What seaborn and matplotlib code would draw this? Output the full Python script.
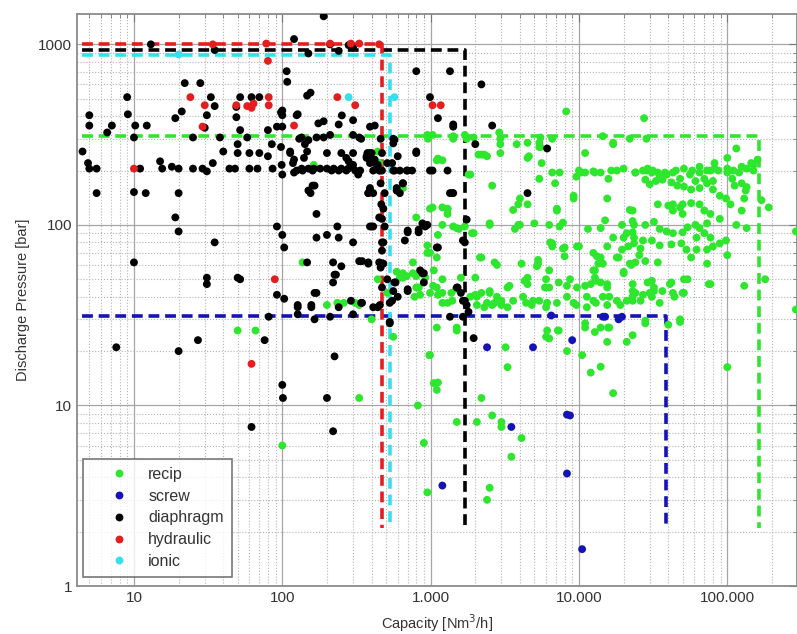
import matplotlib
matplotlib.use("Agg")
import matplotlib.pyplot as plt
from matplotlib.ticker import FuncFormatter, LogLocator, NullFormatter, FixedLocator
import pandas
import seaborn

# ---- data (capacity [Nm3/h], pressure [bar]) ----
DIAPHRAGM_CAP = [190, 13, 120, 210, 280, 150, 240, 300, 35,
    107, 108, 22, 28, 9, 33, 52, 62, 70, 147, 155,
    252, 5, 9.1, 35, 21, 19, 31, 49, 49, 100, 100, 125, 175, 190, 300, 420,
    5, 7.1, 10.2, 12.2, 6.6, 10, 25, 30, 38, 52, 58, 80, 92, 100, 135, 150, 170, 210, 300, 330, 390,
    4.5, 40, 50, 50, 60, 70, 80, 85, 98, 113, 142, 200, 250, 270, 300, 375,
    4.9, 5, 5.6, 11, 15, 15.5, 18, 20, 25, 29, 31, 34, 44, 48, 60, 68, 86, 99, 100, 118, 120,
    135, 150, 163, 180, 200, 222, 250, 278, 300, 325, 370, 390, 420, 440,
    5.6, 10, 12, 20, 150, 155, 380, 390,
    19, 20, 35, 170, 92, 100, 103, 170, 200, 240, 300, 400,
    10, 31, 31, 50, 52, 92, 103, 147, 165, 157, 127, 220, 225, 220, 330, 380,
    7.6, 20, 27, 76, 225, 100, 101, 200, 62, 220,
    81, 127, 210, 300, 165,
    235, 390, 410, 490, 700, 830, 670, 900, 950, 1100,
    250, 230, 450, 510, 580, 560, 600, 700, 850, 900, 900, 170, 290, 340, 127, 157, 240, 440, 530,
    1650, 1500, 1650, 1700, 1350, 1650, 1950,
    800, 1350, 990, 98, 127, 240, 1120, 1420, 130, 190, 340, 560, 570, 113, 147, 280, 120, 140,
    380, 390, 400, 800, 125, 137, 160, 215, 240, 270, 310, 450, 570, 620, 750, 990, 1300,
    160, 165, 390, 380, 590, 620, 1420,
    2200, 1420, 2600, 2000, 6100, 800, 690, 1030, 650, 1400, 4500, 830, 700, 1120, 1520,
    460, 470, 455, 460, 465, 450, 470, 460, 470, 455,
    560, 370, 400, 600, 390, 420, 510, 550, 335, 410, 470, 560, 700,
    410, 490, 590, 650, 1350, 480, 470, 880, 920, 480, 345, 380, 470, 480,
    880, 570, 700, 550, 530, 410, 345, 1600, 1750, 1800, 1700, 1750, 530]
DIAPHRAGM_P = [1430, 1000, 1070, 1000, 990, 890, 920, 960, 930,
    710, 620, 610, 610, 510, 510, 510, 510, 510, 520, 540,
    404, 405, 410, 455, 425, 390, 405, 450, 395, 430, 405, 405, 365, 375, 380, 355,
    355, 355, 355, 355, 325, 305, 305, 345, 305, 335, 305, 335, 350, 350, 305, 295, 305, 315, 315, 305, 350,
    255, 255, 280, 250, 250, 250, 240, 280, 270, 250, 280, 250, 250, 235, 250, 250,
    220, 205, 205, 205, 225, 205, 210, 205, 205, 205, 198, 220, 205, 205, 205, 205, 205, 215, 190, 220, 195,
    205, 205, 205, 205, 205, 205, 205, 205, 215, 190, 235, 250, 230, 215,
    150, 152, 150, 150, 155, 150, 150, 155,
    110, 92, 80, 115, 98, 88, 75, 85, 88, 85, 80, 98,
    62, 51, 47, 51, 50, 41, 39, 62, 42, 36, 36, 62, 53, 48, 63, 62,
    21, 20, 23, 23, 18.7, 13, 11, 11, 7.6, 7.2,
    31, 32, 31, 32, 30,
    98, 98, 98, 98, 91, 91, 82, 100, 100, 75,
    59, 53, 62, 50, 48, 43, 40, 43, 56, 54, 48, 42, 38, 37, 35, 35, 35, 35, 28.5,
    82, 45, 38, 38, 31, 31, 23.6,
    710, 710, 510, 420, 410, 360, 390, 360, 300, 305, 300, 300, 296, 255, 255, 225, 230, 235,
    245, 230, 225, 255, 200, 200, 200, 200, 200, 200, 200, 200, 200, 200, 200, 200, 200,
    165, 165, 160, 150, 160, 150, 150,
    600, 350, 355, 280, 265, 250, 200, 200, 170, 150, 150, 94, 93, 75, 45,
    300, 250, 200, 170, 130, 110, 80, 58, 45, 36,
    283, 240, 250, 240, 220, 220, 220, 220, 200, 200, 200, 200, 200,
    150, 150, 155, 170, 150, 123, 108, 102, 98, 80, 63, 61, 72, 61,
    54, 48, 44, 38, 37, 35, 37, 42, 36, 33, 80, 107, 29]

RECIP_CAP = [163, 137, 200, 235, 310, 330, 440, 50, 66, 100, 330, 400, 560, 260, 510, 690, 760, 830, 850,
    950, 950, 1050, 1100, 1100, 1200, 1200, 1120, 1200, 1380, 1480, 1100, 1500, 1900, 1850,
    990, 1050, 1120, 1100, 820,
    440, 450, 650, 950, 1030, 1420, 1700, 1950, 1120, 2100, 1800, 800, 1030, 1200, 1300, 1420, 1700,
    8200, 27500,
    960, 1420, 1750, 2950, 5500, 6600, 14500, 22000, 28500,
    2900, 3800, 4500, 2950, 2300, 2200, 5500, 4500, 5600, 11000, 17000, 1100, 1200, 1850, 2600, 6600, 7400,
    10000, 11000, 12500, 14000, 16500, 18000, 20000, 24000, 27000, 29000, 31500, 34000, 38000, 45000,
    51000, 58000, 65000, 73000, 82000, 100000, 110000, 125000, 135000, 150000,
    4000, 3900, 9200, 15500, 7100, 3600, 1300, 22000,
    2500, 5000, 7800, 15000, 1550, 11500, 3700, 3900, 1950,
    6600, 7800, 10000, 2150, 2700, 2800, 5300, 5200, 14000, 14500, 12500, 18500, 22000, 25500,
    650, 760, 2000, 3300, 4300, 4500, 6000, 6300, 8300, 12000, 13000, 15500, 20000, 23000, 31000,
    32000, 41000, 51000, 75000, 130000, 180000, 190000,
    990, 1200, 1400, 2050, 2500, 2800, 3000, 2400, 2600, 3600, 4400, 4900, 6000, 8300, 9200, 11300,
    12500, 16000, 18000, 19000, 23000, 26000, 30000, 35000, 44000, 51000,
    115000, 100000, 82000, 65000, 77000, 87000, 145000, 150000, 24000, 28500, 31000, 35000, 36500,
    39000, 43000, 48000, 56000, 61000, 70000, 73000, 80000, 100000, 108000, 120000, 112000, 125000,
    135000, 28000, 30000, 33000, 36500, 42000, 46000, 51000, 57000, 65000, 80000, 89000, 98000,
    105000, 130000, 133000, 125000, 34000, 40000, 43000, 48000, 50000, 57000, 65000, 70000, 77000,
    89000, 43000, 50000, 23000, 28000, 32000, 35000, 39000, 43000, 50000, 54000, 61000, 65000, 73000,
    62000, 70000, 77000, 115000, 135000, 290000, 23500, 27000, 31000, 35000, 42000, 49000, 53000,
    57000, 62000, 73000, 80000, 89000, 98000, 100000, 73000, 77000, 54000, 42000, 26000, 28000,
    24000, 34000, 29000, 32000, 24000, 27000, 23000, 31000, 36500, 43000, 50000, 48000, 28000, 290000,
    2950, 2400, 4600, 5400, 5400, 17000, 9600, 10300, 12800, 15800, 5400, 6900, 4500, 7100, 23000,
    9200, 2500, 4000, 6300, 7400, 14000, 19500, 21000, 23000, 23500,
    6400, 6600, 8000, 8000, 9700, 12500, 13200, 13500, 12800, 12800, 14000, 15500, 17000, 20000,
    19500, 21500, 23500, 18000, 20000, 22500, 2200, 4100, 5300, 6300, 3400, 4500, 5900, 7300, 8700,
    9700, 11000, 15500,
    2200, 2500, 2700, 3000, 4200, 4800, 5400, 6100, 7100, 9600, 11300, 13000, 14500, 15500, 21000,
    23000, 2300, 3300,
    6100, 7200, 11000, 14000, 16000,
    1500, 980, 1500, 2050, 900, 950, 2200, 2600, 3000, 3000, 3500, 4100, 2500, 2400, 3200, 3300,
    6000, 6300, 7300, 8300, 10500, 11000, 12800, 12000, 14000, 15700, 15500, 17000, 21000, 23000,
    28000, 40000, 48000, 100000, 170000, 160000,
    1120, 990, 1300, 1500, 1120, 990, 650, 800, 920, 800, 830, 1040, 1300, 780, 1600, 2000, 2050,
    590, 620]
RECIP_P = [215, 62, 36, 37, 37, 36, 50, 26, 26, 6, 11, 30, 24, 37, 42, 52, 62, 45, 41,
    77, 70, 56, 66, 45, 50, 100, 41, 37, 42, 44, 27, 27, 90, 40,
    19, 13.3, 13.4, 12.2, 10,
    255, 220, 160, 315, 315, 310, 315, 305, 230, 245, 190, 110, 125, 125, 115, 98, 98,
    425, 390,
    300, 300, 300, 300, 305, 300, 310, 300, 300,
    325, 280, 285, 250, 245, 245, 270, 235, 220, 250, 280, 228, 228, 190, 165, 195, 195,
    200, 195, 198, 195, 200, 200, 205, 195, 200, 205, 200, 195, 195, 200,
    205, 200, 195, 200, 205, 205, 200, 210, 205, 215,
    140, 130, 140, 140, 123, 121, 122, 121,
    102, 102, 103, 106, 95, 95, 95, 100, 90,
    79, 74, 76, 66, 62, 60, 64, 59, 66, 61, 56, 66, 61, 68,
    51, 54, 51, 45, 49, 47, 50, 45, 46, 47, 49, 45, 54, 47, 49,
    45, 47, 50, 47, 46, 50, 125,
    42, 42, 38, 40, 42, 40, 38, 37, 36, 38, 37, 38, 35, 40, 37, 35,
    38, 40, 38, 36, 40, 38, 42, 37, 40, 42,
    265, 235, 220, 210, 200, 200, 220, 200, 195, 200, 195, 185, 180,
    190, 195, 180, 190, 175, 180, 170, 175, 195, 180, 195, 165, 170,
    162, 178, 168, 175, 178, 172, 165, 163, 157, 160, 157, 145, 140,
    130, 140, 155, 120, 130, 128, 130, 125, 130, 132, 130, 120, 115,
    108, 120, 115, 105, 100, 104, 95, 92, 90, 91, 97, 100, 96, 102,
    85, 90, 85, 100, 96, 92, 85, 82, 82, 77, 78, 79, 73,
    66, 73, 73, 76, 79, 82, 68, 61, 47, 50, 48, 74, 63,
    62, 62, 48, 43, 42, 41, 38, 40, 43, 42, 42, 30, 29.5, 34,
    280, 240, 240, 285, 270, 285, 185, 195, 195, 180, 180, 170, 130, 120, 120,
    145, 100, 100, 100, 98, 96, 100, 90, 91, 100,
    80, 76, 75, 67, 76, 70, 67, 61, 56, 51, 48, 76, 85, 85,
    73, 76, 79, 66, 55, 60, 66, 61, 61, 56, 46, 51, 45, 48, 50,
    45, 46, 47,
    42, 43, 37, 36, 40, 36, 38, 37, 37, 36, 40, 37, 40, 36, 38,
    43, 35, 35,
    26, 26, 27, 27, 27,
    26, 19, 8.1, 8.1, 6.2, 3.3, 11, 8.8, 8.1, 7.6, 5.2, 6.6, 3.5, 3.0, 21, 16.3,
    24, 23.5, 26, 20, 19, 28.5, 25.5, 15.2, 16.4, 27, 22.5, 11.7, 22.5, 24.5,
    28.5, 28, 29, 16.3, 137, 230,
    233, 123, 123, 96, 88, 70, 54, 52, 51, 45, 45, 46, 37, 40, 51, 41, 36,
    55, 51]

SCREW_CAP = [2400, 4900, 9000, 3500, 8300, 8700, 8300, 1200, 10500, 6500, 15000, 18500, 19500, 14500]
SCREW_P = [21, 21, 23, 7.6, 8.9, 8.8, 4.2, 3.6, 1.6, 31.5, 31, 30, 31, 31]

HYDRAULIC_CAP = [34, 78, 80, 210, 290, 330, 450, 10, 24, 30, 29, 49, 58, 62, 64, 81, 81, 120,
    235, 310, 1030, 1170, 62, 89]
HYDRAULIC_P = [1000, 1010, 810, 1010, 1010, 1010, 1000, 205, 510, 460, 350, 460, 455, 445, 470,
    510, 460, 355, 510, 460, 460, 460, 17, 50]

IONIC_CAP = [20, 280, 570]
IONIC_P = [880, 510, 510]

# operating envelope of each type (dashed boxes)
TYPES = ["recip", "screw", "diaphragm", "hydraulic", "ionic"]
LIMIT_CAP = [164000, 38600, 1710, 470, 530]
LIMIT_P = [310, 31.2, 935, 1000, 870]
LIMIT_BOTTOM = 2.1

PALETTE = {
    "recip": "#2ee62e",
    "screw": "#1414b4",
    "diaphragm": "#000000",
    "hydraulic": "#e41e1e",
    "ionic": "#35dff0",
}


def thousands_formatter(x, pos):
    return f"{x:,.0f}".replace(",", ".")


def build_frame():
    parts = [
        ("recip", RECIP_CAP, RECIP_P),
        ("screw", SCREW_CAP, SCREW_P),
        ("diaphragm", DIAPHRAGM_CAP, DIAPHRAGM_P),
        ("hydraulic", HYDRAULIC_CAP, HYDRAULIC_P),
        ("ionic", IONIC_CAP, IONIC_P),
    ]
    frames = []
    for name, cap, p in parts:
        assert len(cap) == len(p), name
        frames.append(pandas.DataFrame({"capacity": cap, "pressure": p, "type": name}))
    return pandas.concat(frames, ignore_index=True)


def draw_graph():
    seaborn.set_style("white")
    plt.rcParams["font.family"] = ["Liberation Sans", "DejaVu Sans"]

    fig = plt.figure(figsize=(7.97, 6.34), dpi=100)
    ax = fig.add_axes([0.0966, 0.0757, 0.9034, 0.902])
    ax.set_xscale("log")
    ax.set_yscale("log")

    df = build_frame()
    seaborn.scatterplot(data=df, x="capacity", y="pressure", hue="type",
                        hue_order=TYPES, palette=PALETTE, s=32, linewidth=0,
                        ax=ax, zorder=3)

    # dashed envelopes
    for name, cap, p in zip(TYPES, LIMIT_CAP, LIMIT_P):
        ax.plot([1, cap, cap], [p, p, LIMIT_BOTTOM], color=PALETTE[name],
                linestyle=(0, (3, 1.6)), linewidth=2.6, zorder=2)

    ax.set_xlim(4.13, 2.95e5)
    ax.set_ylim(1, 1470)

    ax.xaxis.set_major_locator(FixedLocator([10, 100, 1000, 10000, 100000]))
    ax.xaxis.set_major_formatter(FuncFormatter(thousands_formatter))
    ax.yaxis.set_major_locator(FixedLocator([1, 10, 100, 1000]))
    ax.yaxis.set_major_formatter(FuncFormatter(lambda v, pos: f"{v:.0f}"))
    ax.xaxis.set_minor_locator(LogLocator(base=10, subs=range(2, 10), numticks=20))
    ax.yaxis.set_minor_locator(LogLocator(base=10, subs=range(2, 10), numticks=20))
    ax.xaxis.set_minor_formatter(NullFormatter())
    ax.yaxis.set_minor_formatter(NullFormatter())

    ax.tick_params(which="both", direction="in", color="#777777", labelsize=11,
                   labelcolor="#333333", top=True, right=True)
    ax.tick_params(which="major", length=6)
    ax.tick_params(which="minor", length=3)

    ax.grid(True, which="major", color="#a6a6a6", linewidth=0.9, linestyle="-", zorder=0)
    ax.grid(True, which="minor", color="#b4b4b4", linewidth=0.8, linestyle=":", zorder=0)
    ax.set_axisbelow(True)

    for spine in ax.spines.values():
        spine.set_color("#8a8a8a")
        spine.set_linewidth(1.3)

    ax.set_xlabel("Capacity [Nm$^3$/h]", fontsize=10.5, color="#333333", labelpad=5)
    ax.set_ylabel("Discharge Pressure [bar]", fontsize=10.5, color="#333333", labelpad=6)

    handles, labels = ax.get_legend_handles_labels()
    ax.get_legend().remove()
    leg = ax.legend(handles, labels, loc="lower left", bbox_to_anchor=(0.008, 0.016),
                    borderaxespad=0, fontsize=11.5, frameon=True, fancybox=False,
                    handletextpad=0.0, labelspacing=0.42, borderpad=0.5,
                    handlelength=3.6, markerscale=1.0)
    leg.get_frame().set_edgecolor("#555555")
    leg.get_frame().set_linewidth(1.2)
    for t in leg.get_texts():
        t.set_color("#333333")

    plt.savefig("out.png", dpi=100)
    print("Graph is generated as out.png")


draw_graph()
